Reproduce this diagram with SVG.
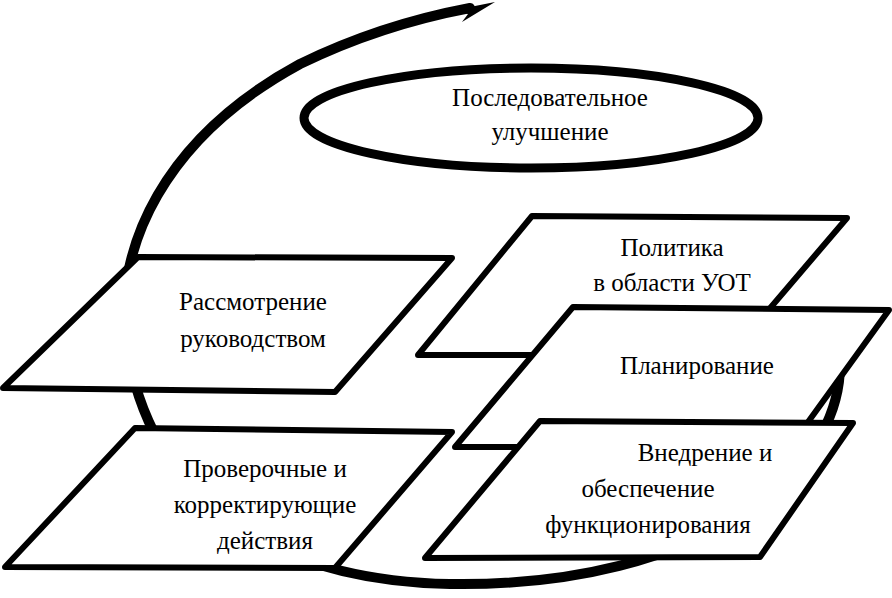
<svg xmlns="http://www.w3.org/2000/svg" width="892" height="598" viewBox="0 0 892 598">
<style>
.n{fill:#fff;stroke:#000;stroke-width:6;stroke-linejoin:round}
text{font-family:"Liberation Serif","DejaVu Serif",serif;font-size:25px;fill:#000;text-anchor:middle}
.c{fill:none;stroke:#000;stroke-width:10;stroke-linecap:round}
</style>
<rect width="892" height="598" fill="#fff"/>
<g id="connectors">
<path class="c" d="M838,340 C860,470 700,588 450,584 C250,580 140,480 125,330 C118,250 160,140 300,64 Q380,25 470,8"/>
<path d="M495,2 L455,10 L468,14 L462,22 Z" fill="#000"/>
</g>
<g id="improve">
<ellipse cx="531" cy="118" rx="227" ry="50" fill="#fff" stroke="#000" stroke-width="9"/>
<text x="550" y="106">Последовательное</text>
<text x="550" y="140">улучшение</text>
</g>
<g id="review">
<polygon class="n" points="138,257 452,258 335,392 3,388"/>
<text x="253" y="310">Рассмотрение</text>
<text x="253" y="347">руководством</text>
</g>
<g id="check">
<polygon class="n" points="135,428 452,432 335,568 5,567"/>
<text x="265" y="477">Проверочные и</text>
<text x="265" y="513">корректирующие</text>
<text x="265" y="549">действия</text>
</g>
<g id="policy">
<polygon class="n" points="532,216 847,218 730,355 418,355"/>
<text x="672" y="256">Политика</text>
<text x="672" y="291">в области УОТ</text>
</g>
<g id="plan">
<polygon class="n" points="573,307 889,310 790,447 455,447"/>
<text x="697" y="374">Планирование</text>
</g>
<g id="impl">
<polygon class="n" points="540,421 853,423 760,557 425,558"/>
<text x="705" y="461">Внедрение и</text>
<text x="648" y="497">обеспечение</text>
<text x="648" y="533">функционирования</text>
</g>
</svg>
